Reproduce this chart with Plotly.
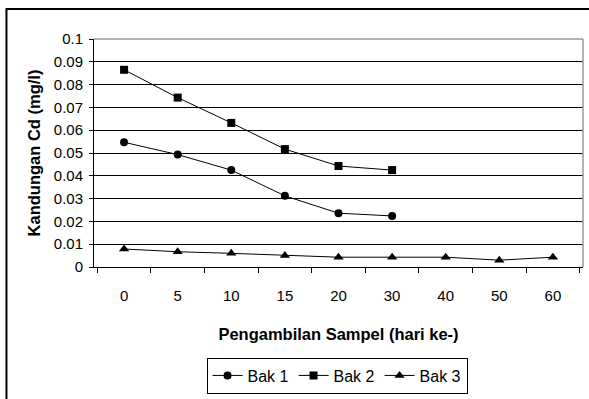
import plotly.graph_objects as go

days = ["0", "5", "10", "15", "20", "30", "40", "50", "60"]
bak1 = [0.0547, 0.0493, 0.0425, 0.0312, 0.0236, 0.0224]
bak2 = [0.0865, 0.0743, 0.0632, 0.0517, 0.0443, 0.0425]
bak3 = [0.0079, 0.0067, 0.0060, 0.0050, 0.0043, 0.0043, 0.0043, 0.0030, 0.0043]

FONT = "Liberation Sans, Arial, sans-serif"

fig = go.Figure()
fig.add_trace(go.Scatter(x=days[:len(bak1)], y=bak1, name="Bak 1", mode="lines+markers",
                         line=dict(color="black", width=1),
                         marker=dict(symbol="circle", size=8, color="black")))
fig.add_trace(go.Scatter(x=days[:len(bak2)], y=bak2, name="Bak 2", mode="lines+markers",
                         line=dict(color="black", width=1),
                         marker=dict(symbol="square", size=8, color="black")))
fig.add_trace(go.Scatter(x=days, y=bak3, name="Bak 3", mode="lines+markers",
                         line=dict(color="black", width=1),
                         marker=dict(symbol="triangle-up", size=9, color="black")))

fig.update_layout(
    width=589, height=399,
    margin=dict(l=94, r=6, t=39, b=128),
    paper_bgcolor="white", plot_bgcolor="white",
    font=dict(family=FONT, size=15, color="black"),
    showlegend=True,
    legend=dict(orientation="h", x=0.497, xanchor="center", y=-0.397, yanchor="top",
                bordercolor="black", borderwidth=1, font=dict(size=16),
                itemwidth=30, tracegroupgap=0),
    xaxis=dict(type="category", categoryorder="array", categoryarray=days,
               tickson="boundaries", ticks="outside", ticklen=5, tickcolor="black",
               ticklabelstandoff=15,
               showline=True, linecolor="black", linewidth=1, showgrid=False,
               tickfont=dict(size=15),
               title=dict(text="<b>Pengambilan Sampel (hari ke-)</b>", standoff=25,
                          font=dict(size=16.5)),
               automargin=False, fixedrange=True),
    yaxis=dict(range=[0, 0.1], dtick=0.01, tickformat="~g", ticks="outside", ticklen=4,
               ticklabelstandoff=3,
               tickcolor="black", showline=True, linecolor="black", linewidth=1,
               showgrid=True, gridcolor="black", gridwidth=1, zeroline=False,
               tickfont=dict(size=15),
               title=dict(text="<b>Kandungan Cd (mg/l)</b>", standoff=9,
                          font=dict(size=16.5)),
               automargin=False, fixedrange=True),
    shapes=[
        dict(type="line", xref="paper", yref="paper", x0=0, x1=1, y0=1, y1=1,
             line=dict(color="#999999", width=1.5), layer="above"),
        dict(type="line", xref="paper", yref="paper", x0=1, x1=1, y0=0, y1=1,
             line=dict(color="#999999", width=1.5), layer="above"),
        dict(type="rect", xref="paper", yref="paper", x0=-0.179, x1=1.06, y0=-0.62, y1=1.1315,
             line=dict(color="black", width=2), layer="above"),
    ],
)

fig.write_html("out.html")
